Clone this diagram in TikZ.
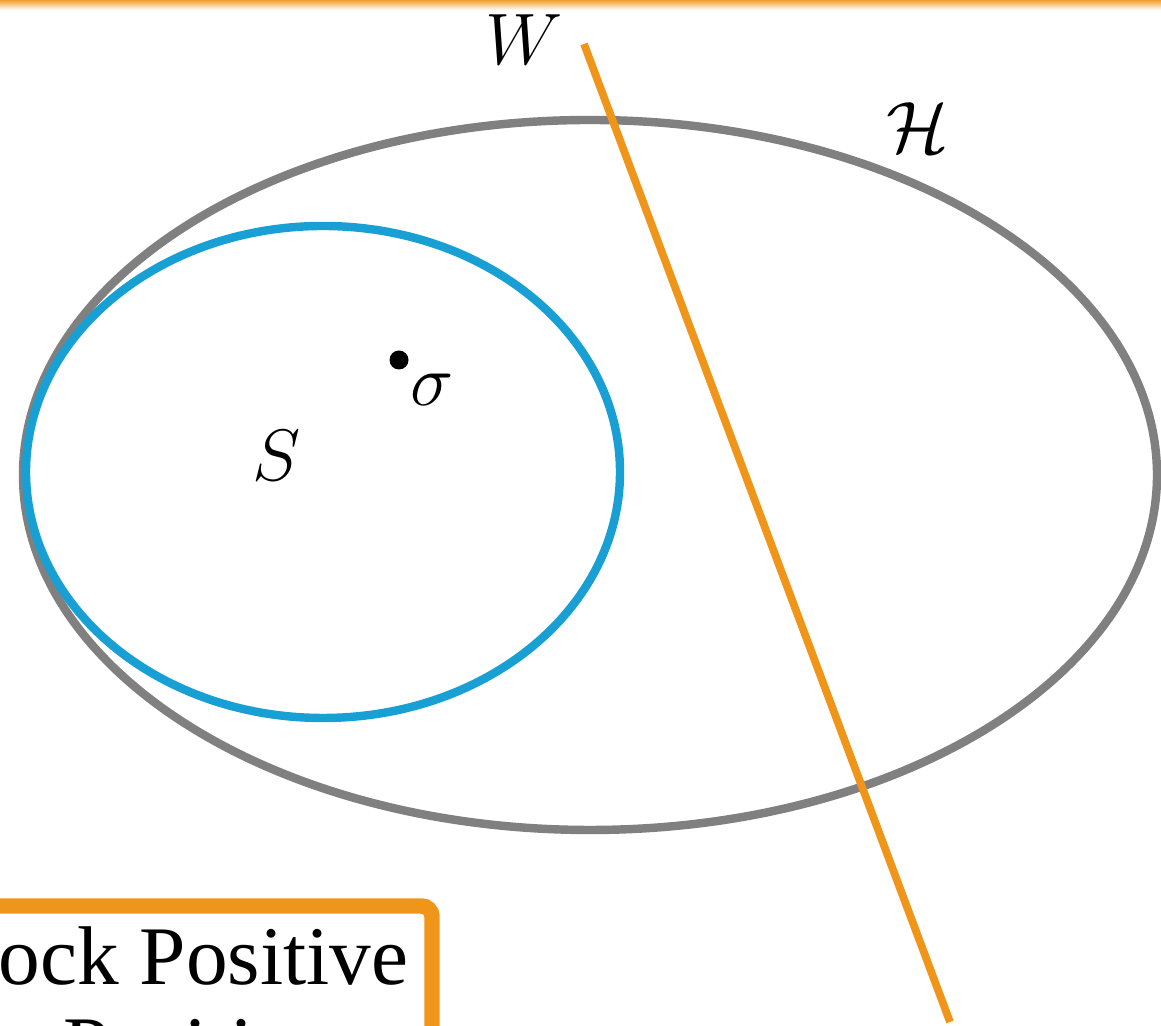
\documentclass[tikz,border=0pt]{standalone}
\usepackage{amsmath}
\usepackage{amssymb}
\usepackage{xcolor}
\usepackage{fontspec}
\setmainfont{Liberation Serif}
\usepackage{tikz}
\usetikzlibrary{arrows.meta, positioning, calc}

\definecolor{witorange}{RGB}{239,150,26}
\definecolor{sepblue}{RGB}{24,160,212}
\definecolor{hullgray}{RGB}{128,128,128}

\begin{document}
\begin{tikzpicture}[
  hullline/.style={draw=hullgray, line width=2.4pt},
  sepline/.style={draw=sepblue, line width=2.4pt},
  witline/.style={draw=witorange, line width=2.2pt},
  boxframe/.style={draw=witorange, line width=4.4pt, rounded corners=3pt},
  boxtext/.style={font=\fontsize{23.7}{26}\selectfont, inner sep=0pt},
  lbl/.style={font=\fontsize{22}{26}\selectfont, inner sep=0pt}
]
\useasboundingbox (0,0) rectangle (11.61,10.26);
\clip (0,0) rectangle (11.61,10.26);

% Top edge fade
\shade[top color=witorange, bottom color=white] (0,10.16) rectangle (11.61,10.27);

% Hilbert space set
\coordinate (hc) at (5.90,5.51);
\draw[hullline] (hc) ellipse (5.67 and 3.55);
\node[lbl] (hlbl) at (9.18,8.98) {$\mathcal{H}$};

% Separable set
\coordinate (sc) at (3.23,5.54);
\draw[sepline] (sc) ellipse (2.97 and 2.46);
\node[lbl] (slbl) at (2.77,5.70) {$S$};

% State
\fill (3.99,6.66) circle (0.095);
\node[lbl] (sig) at (4.32,6.36) {$\sigma$};

% Witness hyperplane
\coordinate (w0) at (5.84,9.82);
\coordinate (w1) at (9.50,0.04);
\draw[witline] (w0) -- (w1);
\node[lbl] (wlbl) at (5.24,9.86) {$W$};

% Legend box
\draw[boxframe] (-0.5,-1.0) |- (4.32,1.20) -- (4.32,-1.0);
\node[boxtext, anchor=base east] (bp) at (4.09,0.41) {Block Positive};
\node[boxtext, anchor=base west] (pos) at (0.63,-0.49) {Positive};

\end{tikzpicture}
\end{document}
